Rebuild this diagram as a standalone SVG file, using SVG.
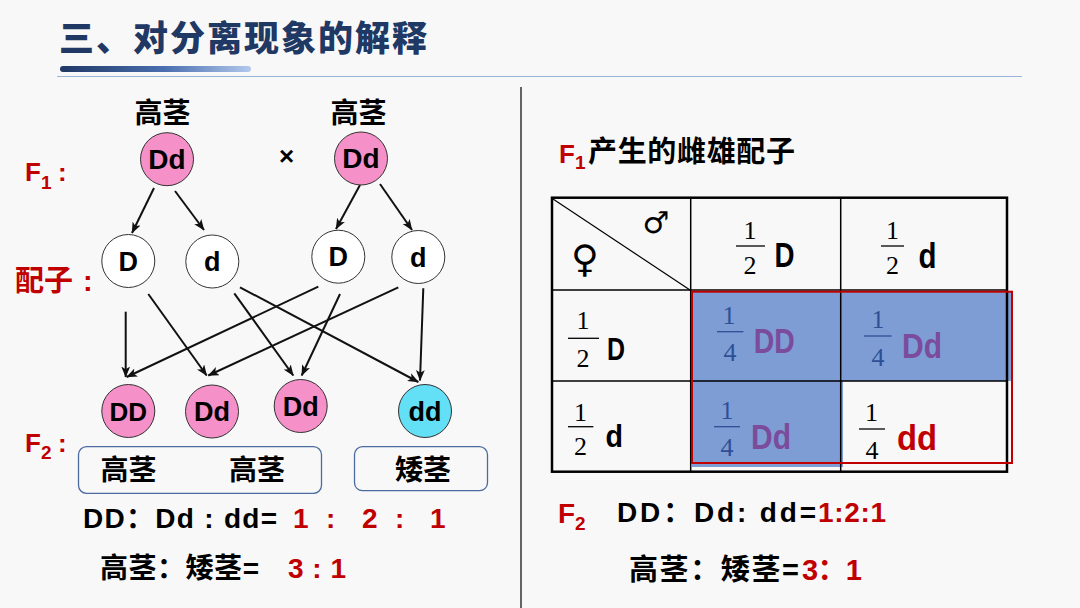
<svg xmlns="http://www.w3.org/2000/svg" width="1080" height="608" viewBox="0 0 1080 608">
<defs>
<linearGradient id="ul" x1="0" x2="1" y1="0" y2="0">
<stop offset="0" stop-color="#1f3864"/><stop offset="0.55" stop-color="#4a6fb0"/><stop offset="1" stop-color="#b3c9ec"/>
</linearGradient>
<marker id="ah" viewBox="0 0 10 8" refX="9.5" refY="4" markerWidth="11" markerHeight="9" markerUnits="userSpaceOnUse" orient="auto">
<path d="M0,0 L10,4 L0,8 L2.5,4 z" fill="#111"/>
</marker>
<style>
.cj{font-family:"Liberation Sans","Noto Sans CJK SC",sans-serif;font-weight:bold;fill:#000}
.g{font-family:"Liberation Sans",Arial,sans-serif;font-weight:bold;font-size:27px;text-anchor:middle;fill:#000}
.pk{fill:#f590c8;stroke:#333;stroke-width:1}
.wt{fill:#fff;stroke:#333;stroke-width:1}
.cy{fill:#63e0f5;stroke:#333;stroke-width:1}
.fr{font-family:"Liberation Serif","DejaVu Serif",serif;font-size:26px;text-anchor:middle;fill:#000}
.bar{stroke:#000;stroke-width:1.3}
.barb{stroke:#2f4f95;stroke-width:1.3}
.nar{font-family:"Liberation Sans Narrow","Liberation Sans",sans-serif;font-weight:bold;font-size:35px;fill:#000}
.fr.frb{fill:#2f4f95}
.nar.pu{fill:#7b4b9c}
.cj.red,.nar.red{fill:#c00000}
.box{fill:none;stroke:#4a6aa0;stroke-width:1.3}
.ar line{stroke:#111;stroke-width:2;marker-end:url(#ah)}
.grid{stroke:#000;stroke-width:1.5}
</style>
</defs>
<rect x="0" y="0" width="1080" height="608" fill="#f8f8f8"/>

<g id="title">
<text x="59" y="51" class="cj" style="font-size:35px;fill:#1f3864;font-weight:900" textLength="368">三、对分离现象的解释</text>
<rect x="60" y="66" width="191" height="6" rx="3" fill="url(#ul)"/>
<line x1="57" y1="76.5" x2="1022" y2="76.5" stroke="#9ab4dc" stroke-width="1.2"/>
</g>
<line id="divider" x1="521" y1="87" x2="521" y2="608" stroke="#333" stroke-width="1.5"/>

<g id="labels-left">
<text x="25" y="181" class="cj red" style="font-size:26px">F</text>
<text x="41" y="189" class="cj red" style="font-size:19px">1</text>
<text x="58" y="181" class="cj red" style="font-size:26px">:</text>
<text x="15" y="291" class="cj red" style="font-size:29px">配子</text>
<text x="83" y="291" class="cj red" style="font-size:29px">:</text>
<text x="25" y="452" class="cj red" style="font-size:26px">F</text>
<text x="41" y="459" class="cj red" style="font-size:19px">2</text>
<text x="58" y="452" class="cj red" style="font-size:26px">:</text>
<text x="162.5" y="123" class="cj" style="font-size:28px" text-anchor="middle">高茎</text>
<text x="358.5" y="123" class="cj" style="font-size:28px" text-anchor="middle">高茎</text>
<text x="286.5" y="165" class="g" style="font-size:26px">×</text>
</g>

<g id="connectors" class="ar">
<line x1="154" y1="188" x2="132" y2="233"/>
<line x1="175" y1="191" x2="204" y2="230"/>
<line x1="360" y1="185" x2="336" y2="229"/>
<line x1="380" y1="184" x2="412" y2="230"/>
<line x1="125.7" y1="311.7" x2="125.7" y2="377"/>
<line x1="148.3" y1="294" x2="206.7" y2="375.5"/>
<line x1="234.3" y1="293.3" x2="293.3" y2="375.5"/>
<line x1="240" y1="287.3" x2="418.3" y2="382"/>
<line x1="318.3" y1="286.7" x2="126.7" y2="377"/>
<line x1="340" y1="294" x2="301.7" y2="375.5"/>
<line x1="398.3" y1="287.3" x2="208.3" y2="375.5"/>
<line x1="423.3" y1="288.3" x2="420" y2="380.5"/>
</g>

<g id="p1"><circle cx="167" cy="159.2" r="26.5" class="pk"/><text x="167" y="168.5" class="g" style="font-size:28px">Dd</text></g>
<g id="p2"><circle cx="361" cy="158.5" r="26.5" class="pk"/><text x="361" y="168" class="g" style="font-size:28px">Dd</text></g>

<g id="g1"><circle cx="128.3" cy="261" r="26.5" class="wt"/><text x="128.3" y="270.5" class="g">D</text></g>
<g id="g2"><circle cx="212.3" cy="261.5" r="26.5" class="wt"/><text x="212.3" y="271" class="g">d</text></g>
<g id="g3"><circle cx="338.3" cy="256.7" r="26.5" class="wt"/><text x="338.3" y="266.2" class="g">D</text></g>
<g id="g4"><circle cx="418.3" cy="257" r="26.5" class="wt"/><text x="418.3" y="266.5" class="g">d</text></g>

<g id="o1"><circle cx="128.3" cy="411" r="26.5" class="pk"/><text x="128.3" y="420.5" class="g" style="font-size:26px">DD</text></g>
<g id="o2"><circle cx="212" cy="411.5" r="26.5" class="pk"/><text x="212" y="421" class="g">Dd</text></g>
<g id="o3"><circle cx="300.7" cy="406" r="26.5" class="pk"/><text x="300.7" y="415.5" class="g">Dd</text></g>
<g id="o4"><circle cx="425" cy="411" r="26.5" class="cy"/><text x="425" y="420.5" class="g">dd</text></g>

<g id="pheno-tall">
<rect x="78.5" y="446.7" width="243" height="46.6" rx="8" class="box"/>
<text x="128.5" y="479.5" class="cj" style="font-size:28px" text-anchor="middle">高茎</text>
<text x="257" y="479.5" class="cj" style="font-size:28px" text-anchor="middle">高茎</text>
</g>
<g id="pheno-short">
<rect x="354.5" y="446.7" width="133" height="44" rx="8" class="box"/>
<text x="423" y="479.5" class="cj" style="font-size:28px" text-anchor="middle">矮茎</text>
</g>

<g id="ratio-left">
<text x="83" y="528" class="cj" style="font-size:28px" textLength="194">DD：Dd : dd=</text>
<text x="293" y="528" class="cj red" style="font-size:28px">1</text>
<text x="326" y="528" class="cj red" style="font-size:28px">:</text>
<text x="362" y="528" class="cj red" style="font-size:28px">2</text>
<text x="395" y="528" class="cj red" style="font-size:28px">:</text>
<text x="430" y="528" class="cj red" style="font-size:28px">1</text>
<text x="100" y="578" class="cj" style="font-size:28px" textLength="159">高茎：矮茎=</text>
<text x="288" y="578" class="cj red" style="font-size:28px" textLength="58">3 : 1</text>
</g>

<g id="right-title">
<text x="559" y="163" class="cj red" style="font-size:26px">F</text>
<text x="575" y="169" class="cj red" style="font-size:19px">1</text>
<text x="588" y="162" class="cj" style="font-size:29px" textLength="207">产生的雌雄配子</text>
</g>

<g id="punnett">
<rect x="692" y="292" width="320" height="89" fill="#4472c4" fill-opacity="0.68"/>
<rect x="692" y="381" width="151" height="86" fill="#4472c4" fill-opacity="0.68"/>
<line x1="552" y1="290" x2="1007" y2="290" class="grid"/>
<line x1="552" y1="381" x2="1007" y2="381" class="grid"/>
<line x1="690.7" y1="197.7" x2="690.7" y2="471.7" class="grid"/>
<line x1="840.7" y1="197.7" x2="840.7" y2="471.7" class="grid"/>
<line x1="553" y1="199" x2="690" y2="290" stroke="#000" stroke-width="1.2"/>
<rect x="552" y="197.7" width="455" height="274" fill="none" stroke="#000" stroke-width="2.5"/>
<rect x="692" y="291.7" width="320" height="171.3" fill="none" stroke="#c00000" stroke-width="2"/>

<text x="656" y="233" style="font-family:'DejaVu Sans',sans-serif;font-size:30px" text-anchor="middle">♂</text>
<text x="585" y="272" style="font-family:'DejaVu Sans',sans-serif;font-size:38px" text-anchor="middle">♀</text>

<text x="750" y="239" class="fr">1</text>
<line x1="736" y1="246" x2="765" y2="246" class="bar"/>
<text x="750" y="274" class="fr">2</text>
<text x="774.5" y="266.7" class="nar" textLength="20" lengthAdjust="spacingAndGlyphs">D</text>

<text x="892.5" y="239" class="fr">1</text>
<line x1="881" y1="246" x2="904" y2="246" class="bar"/>
<text x="892.5" y="274" class="fr">2</text>
<text x="918.6" y="268" class="nar" textLength="18" lengthAdjust="spacingAndGlyphs">d</text>

<text x="583" y="329" class="fr">1</text>
<line x1="568" y1="338.3" x2="599" y2="338.3" class="bar"/>
<text x="583" y="367" class="fr">2</text>
<text x="607" y="360" class="nar" style="font-size:32px" textLength="18" lengthAdjust="spacingAndGlyphs">D</text>

<text x="580.5" y="421" class="fr">1</text>
<line x1="568" y1="426.7" x2="593.4" y2="426.7" class="bar"/>
<text x="580.5" y="455" class="fr">2</text>
<text x="605.5" y="446.7" class="nar" style="font-size:32px" textLength="17.5" lengthAdjust="spacingAndGlyphs">d</text>

<text x="729" y="324" class="fr frb">1</text>
<line x1="717" y1="331.7" x2="743.4" y2="331.7" class="barb"/>
<text x="730" y="361" class="fr frb">4</text>
<text x="753.8" y="353.3" class="nar pu" textLength="41" lengthAdjust="spacingAndGlyphs">DD</text>

<text x="878" y="328" class="fr frb">1</text>
<line x1="864" y1="336" x2="891.7" y2="336" class="barb"/>
<text x="878" y="366" class="fr frb">4</text>
<text x="902" y="357.5" class="nar pu" textLength="40" lengthAdjust="spacingAndGlyphs">Dd</text>

<text x="727" y="419" class="fr frb">1</text>
<line x1="714" y1="426.7" x2="740" y2="426.7" class="barb"/>
<text x="727" y="456" class="fr frb">4</text>
<text x="751" y="449" class="nar pu" textLength="40" lengthAdjust="spacingAndGlyphs">Dd</text>

<text x="871.5" y="421" class="fr">1</text>
<line x1="859" y1="429" x2="885" y2="429" class="bar"/>
<text x="872" y="459" class="fr">4</text>
<text x="897" y="449.5" class="nar red" textLength="40" lengthAdjust="spacingAndGlyphs">dd</text>
</g>

<g id="ratio-right">
<text x="558" y="523" class="cj red" style="font-size:28px">F</text>
<text x="575" y="530" class="cj red" style="font-size:19px">2</text>
<text x="617" y="522" class="cj" style="font-size:28px" textLength="199">DD：Dd: dd=</text>
<text x="818" y="522" class="cj red" style="font-size:28px" textLength="68">1:2:1</text>
<text x="629" y="580" class="cj" style="font-size:29px" textLength="170">高茎：矮茎=</text>
<text x="802" y="580" class="cj red" style="font-size:29px" textLength="60">3：1</text>
</g>
</svg>
